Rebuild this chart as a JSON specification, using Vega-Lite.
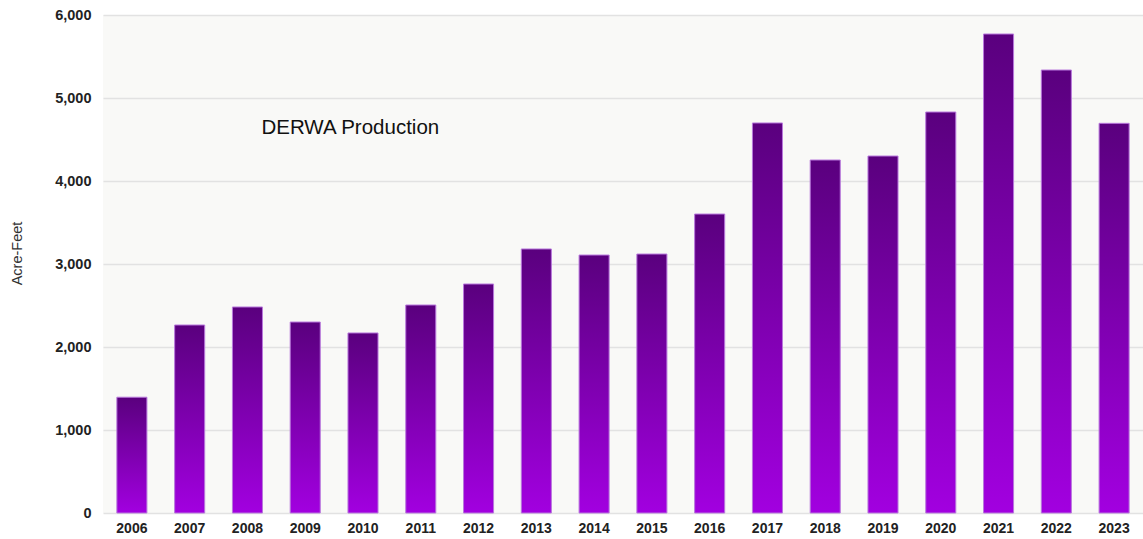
{
  "$schema": "https://vega.github.io/schema/vega-lite/v6.json",
  "width": 1040,
  "height": 498,
  "autosize": {"type": "none"},
  "padding": {"left": 103, "top": 15, "right": 0, "bottom": 26},
  "background": "#ffffff",
  "config": {
    "view": {"fill": "#f9f9f7", "stroke": null},
    "font": "Liberation Sans"
  },
  "data": {
    "values": [
      {"year": "2006", "value": 1395},
      {"year": "2007", "value": 2265},
      {"year": "2008", "value": 2482},
      {"year": "2009", "value": 2301},
      {"year": "2010", "value": 2169},
      {"year": "2011", "value": 2506},
      {"year": "2012", "value": 2759},
      {"year": "2013", "value": 3181},
      {"year": "2014", "value": 3108},
      {"year": "2015", "value": 3120},
      {"year": "2016", "value": 3602},
      {"year": "2017", "value": 4699},
      {"year": "2018", "value": 4253},
      {"year": "2019", "value": 4301},
      {"year": "2020", "value": 4831},
      {"year": "2021", "value": 5771},
      {"year": "2022", "value": 5337},
      {"year": "2023", "value": 4695}
    ]
  },
  "encoding": {
    "x": {
      "field": "year",
      "type": "ordinal",
      "scale": {"paddingInner": 0.48, "paddingOuter": 0.24},
      "axis": {
        "title": null,
        "labelAngle": 0,
        "labelFont": "Liberation Sans",
        "labelFontWeight": "bold",
        "labelFontSize": 14,
        "labelColor": "#222222",
        "labelPadding": 8,
        "ticks": false,
        "domain": false,
        "grid": false
      }
    },
    "y": {
      "field": "value",
      "type": "quantitative",
      "scale": {"domain": [0, 6000], "nice": false},
      "axis": {
        "title": "Acre-Feet",
        "titleFont": "Liberation Sans",
        "titleFontWeight": "normal",
        "titleFontSize": 14.5,
        "titleColor": "#333333",
        "titleAngle": -90,
        "titleAlign": "center",
        "titleBaseline": "middle",
        "titleX": -86,
        "titleY": 238,
        "values": [0, 1000, 2000, 3000, 4000, 5000, 6000],
        "format": ",d",
        "labelFont": "Liberation Sans",
        "labelFontWeight": "bold",
        "labelFontSize": 14.5,
        "labelColor": "#222222",
        "labelPadding": 12,
        "ticks": false,
        "domain": false,
        "grid": true,
        "gridColor": "#e2e2e2",
        "gridWidth": 1.5
      }
    }
  },
  "layer": [
    {
      "mark": {
        "type": "bar",
        "stroke": "#b878dc",
        "strokeWidth": 1,
        "color": {
          "gradient": "linear",
          "x1": 0, "y1": 0, "x2": 0, "y2": 1,
          "stops": [
            {"offset": 0, "color": "#5a007e"},
            {"offset": 1, "color": "#a200e0"}
          ]
        }
      }
    },
    {
      "data": {"values": [{"year": "2008", "value": 4639, "label": "DERWA Production"}]},
      "mark": {
        "type": "text",
        "align": "left",
        "baseline": "middle",
        "dx": 14,
        "font": "Liberation Sans",
        "fontSize": 20.5,
        "color": "#111111"
      },
      "encoding": {
        "text": {"field": "label"}
      }
    }
  ]
}
